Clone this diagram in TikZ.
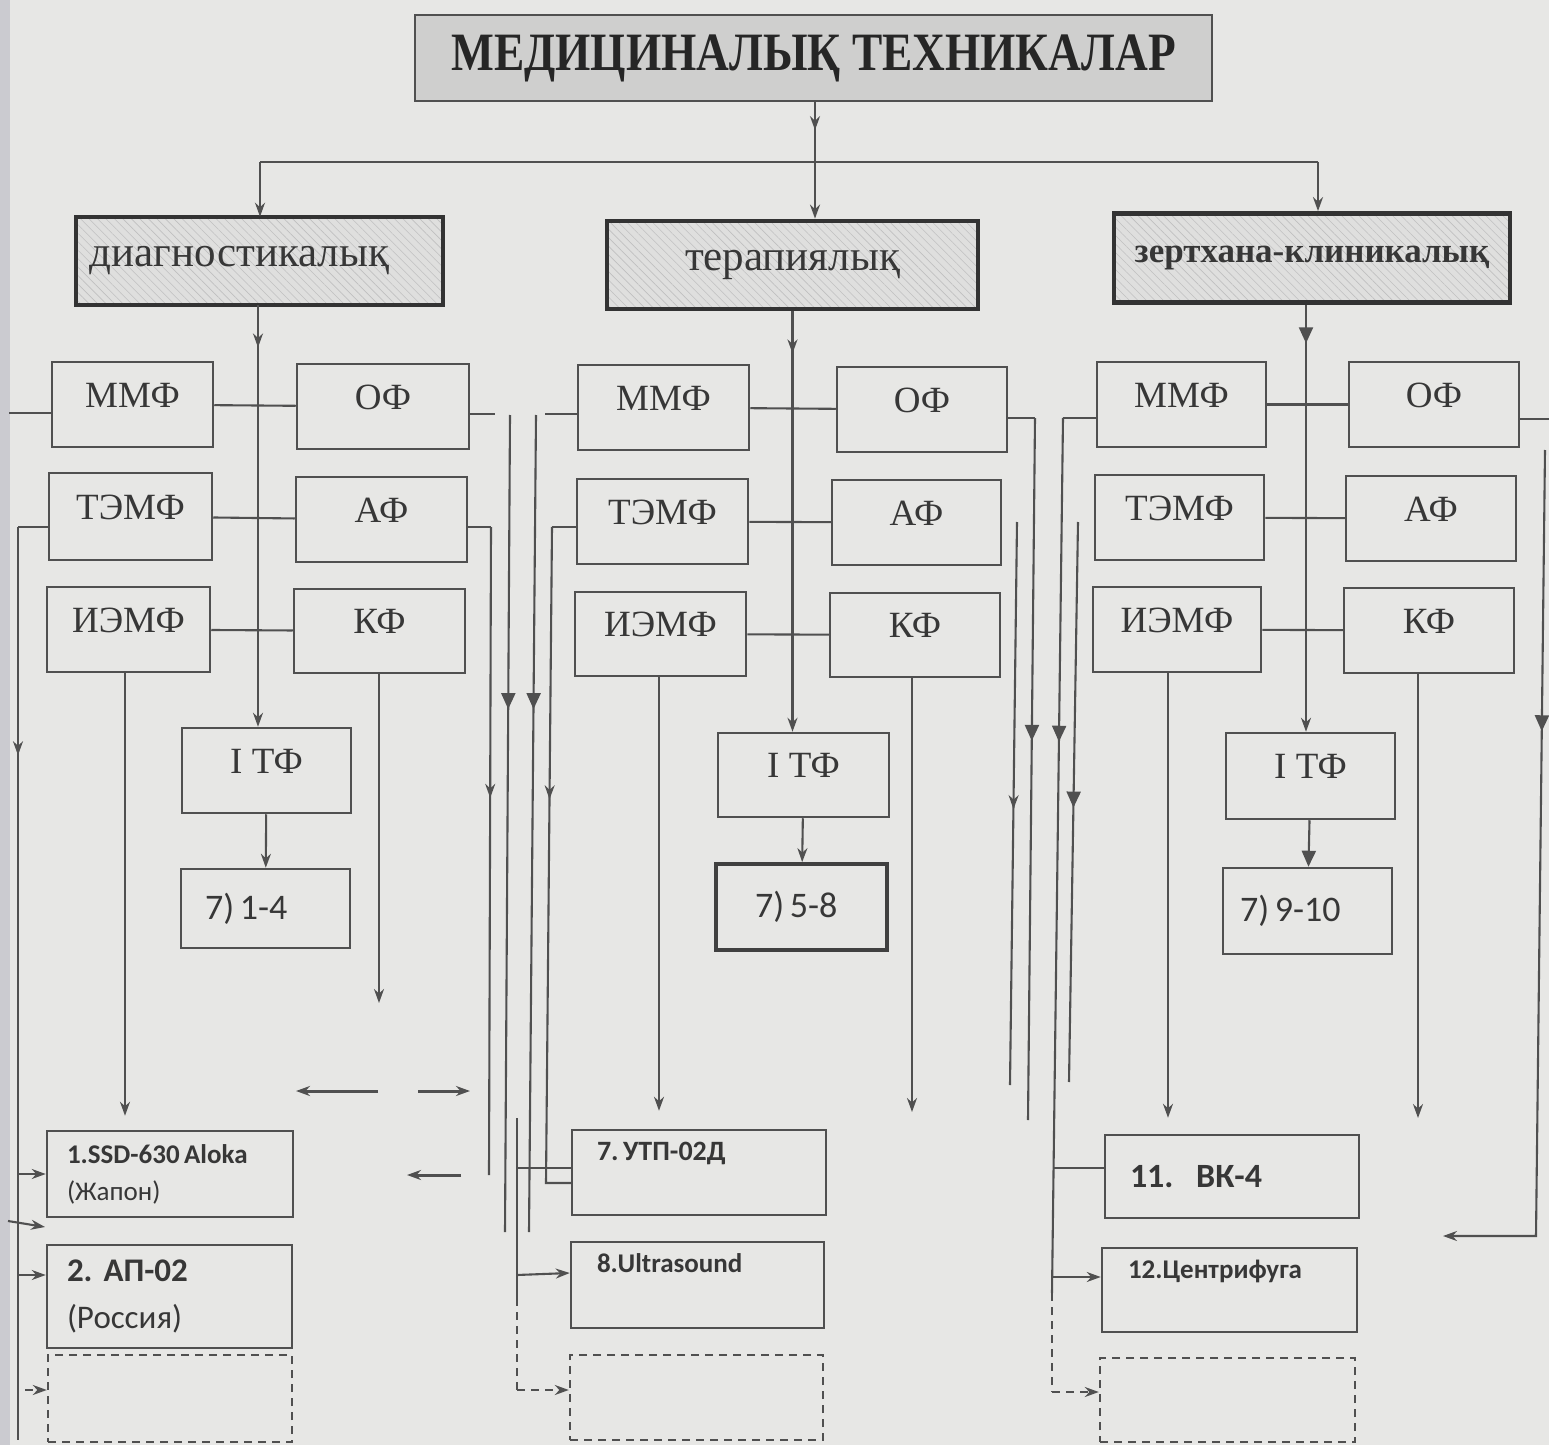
\documentclass[tikz,border=0pt]{standalone}
\usepackage{fontspec}
\usepackage{graphicx}
\setmainfont{Liberation Serif}
\newfontfamily\sansc{Carlito}
\usetikzlibrary{arrows.meta,decorations.markings,patterns.meta}

\definecolor{paper}{RGB}{231,231,229}
\definecolor{ink}{RGB}{80,80,80}
\definecolor{txt}{RGB}{55,55,55}
\definecolor{titlefill}{RGB}{207,207,206}
\definecolor{catfill}{RGB}{223,223,222}
\definecolor{hatch}{RGB}{192,192,192}
\definecolor{band}{RGB}{203,203,208}

\newcommand{\nsp}{\hspace{0.16em}}

\begin{document}
\frenchspacing
\begin{tikzpicture}[x=0.5pt,y=-0.5pt,
  >={Stealth[length=7pt,width=5pt]},
  ln/.style={draw=ink, line width=1.05pt},
  dln/.style={ln, dash pattern=on 4pt off 3pt},
  heavy/.style={draw=ink, line width=1.5pt},
  tipat/.style={postaction={decorate}, decoration={markings, mark=at position #1 with {\arrow{>}}}},
  bigtipat/.style={postaction={decorate}, decoration={markings, mark=at position #1 with {\arrow{Triangle[length=8pt,width=7pt]}}}},
  wh/.style 2 args={minimum width=#1, minimum height=#2},
  fbox/.style={draw=ink, line width=1.25pt, fill=paper, text=txt, inner sep=0pt, font=\fontsize{18.5}{20}\selectfont},
  sf/.style={fbox, text height=12.6pt, text depth=10pt},
  sbox/.style={fbox, font=\sansc\fontsize{18}{20}\selectfont, align=left},
  dbox/.style={draw=ink, line width=1.2pt, dash pattern=on 4pt off 3pt, inner sep=0pt},
  catbox/.style={draw=black!80, line width=2.4pt, preaction={fill=catfill},
    pattern={Lines[angle=-45,distance=3pt,line width=0.3pt]}, pattern color=hatch,
    text=txt, inner sep=0pt},
  topset/.style 2 args={text height=#1, text depth=#2, inner ysep=0pt}
]
% paper and left margin band
\fill[paper] (0,0) rectangle (1549,1445);
\fill[band] (0,0) rectangle (10,1445);
\useasboundingbox (0,0) rectangle (1549,1445);

% ---------- title and the three groups ----------
\node[draw=ink, line width=1.2pt, fill=titlefill, wh={398.5pt}{43pt}, text=black!85,
      font=\bfseries\fontsize{27}{30}\selectfont] (title) at (813.5,58)
      {\scalebox{0.84}[1]{МЕДИЦИНАЛЫҚ ТЕХНИКАЛАР}};

\node[catbox, wh={183.5pt}{44pt}, text width=169.5pt, inner xsep=7pt, align=left,
      font=\fontsize{21.5}{24}\selectfont] (diag) at (259.5,261) {диагностикалық};
\node[catbox, wh={185.5pt}{44pt}, font=\fontsize{21.5}{24}\selectfont] (ther) at (792.5,265) {терапиялық};
\node[catbox, wh={198pt}{44.5pt}, font=\bfseries\fontsize{17.5}{20}\selectfont] (lab) at (1312,258) {зертхана-клиникалық};

% ---------- column 1 ----------
\node[sf, wh={80.5pt}{42.5pt}] (mmf1) at (132.5,404.5) {ММФ};
\node[sf, wh={86pt}{42.5pt}] (of1) at (383,406.5) {ОФ};
\node[sf, wh={81.5pt}{43.5pt}] (temf1) at (130.5,516.5) {ТЭМФ};
\node[sf, wh={85.5pt}{42.5pt}] (af1) at (381.5,519.5) {АФ};
\node[sf, wh={81.5pt}{42.5pt}] (iemf1) at (128.5,629.5) {ИЭМФ};
\node[sf, wh={85.5pt}{42pt}] (kf1) at (379.5,631) {КФ};
\node[sf, wh={84.5pt}{42.5pt}] (itf1) at (266.5,770.5) {I ТФ};
\node[sbox, wh={84.5pt}{39.5pt}, text width=60.5pt, inner xsep=12pt] (r1) at (265.5,908.5) {7)\nsp1-4};
\node[sbox, wh={123pt}{43pt}, text width=103pt, inner xsep=10pt,
      font=\sansc\fontsize{13.5}{18.5}\selectfont] (ssd) at (170,1174)
      {\textbf{1.SSD-630\nsp Aloka}\\(Жапон)};
\node[sbox, wh={122.5pt}{51.5pt}, text width=102.5pt, inner xsep=10pt,
      font=\sansc\fontsize{16.5}{23.5}\selectfont] (ap) at (169.5,1296.5)
      {\textbf{2. АП-02}\\(Россия)};
\node[dbox, wh={122pt}{43.5pt}] (dash1) at (170,1398.5) {};

% ---------- column 2 ----------
\node[sf, wh={85.5pt}{42.5pt}] (mmf2) at (663.5,407.5) {ММФ};
\node[sf, wh={85pt}{42.5pt}] (of2) at (922,409.5) {ОФ};
\node[sf, wh={85.5pt}{42.5pt}] (temf2) at (662.5,521.5) {ТЭМФ};
\node[sf, wh={84.5pt}{42.5pt}] (af2) at (916.5,522.5) {АФ};
\node[sf, wh={85.5pt}{42pt}] (iemf2) at (660.5,634) {ИЭМФ};
\node[sf, wh={85pt}{42pt}] (kf2) at (915,635) {КФ};
\node[sf, wh={85.5pt}{42pt}] (itf2) at (803.5,775) {I ТФ};
\node[sbox, line width=1.9pt, draw=black!75, wh={85.5pt}{43pt}, text width=46.5pt, inner xsep=19.5pt] (r2) at (801.5,907) {7)\nsp5-8};
\node[sbox, wh={127pt}{42.5pt}, text width=102pt, inner xsep=12.5pt, topset={15pt}{27.5pt},
      font=\sansc\bfseries\fontsize{14}{16}\selectfont] (utp) at (699,1172.5) {7.\nsp УТП-02Д};
\node[sbox, wh={126.5pt}{43pt}, text width=100.5pt, inner xsep=13pt, topset={15pt}{28pt},
      font=\sansc\bfseries\fontsize{13.5}{16}\selectfont] (ult) at (697.5,1285) {8.Ultrasound};
\node[dbox, wh={126.5pt}{42.5pt}] (dash2) at (696.5,1397.5) {};

% ---------- column 3 ----------
\node[sf, wh={84.5pt}{42.5pt}] (mmf3) at (1181.5,404.5) {ММФ};
\node[sf, wh={85pt}{42.5pt}] (of3) at (1434,404.5) {ОФ};
\node[sf, wh={84.5pt}{42.5pt}] (temf3) at (1179.5,517.5) {ТЭМФ};
\node[sf, wh={85pt}{42.5pt}] (af3) at (1431,518.5) {АФ};
\node[sf, wh={84pt}{42.5pt}] (iemf3) at (1177,629.5) {ИЭМФ};
\node[sf, wh={85pt}{42.5pt}] (kf3) at (1429,630.5) {КФ};
\node[sf, wh={84.5pt}{43pt}] (itf3) at (1310.5,776) {I ТФ};
\node[sbox, wh={84.5pt}{43pt}, text width=67.5pt, inner xsep=8.5pt] (r3) at (1307.5,911) {7)\nsp9-10};
\node[sbox, wh={127pt}{41.5pt}, text width=102pt, inner xsep=12.5pt,
      font=\sansc\bfseries\fontsize{17}{20}\selectfont] (vk) at (1232,1176.5) {11.\ \ ВК-4};
\node[sbox, wh={127.5pt}{42pt}, text width=101.5pt, inner xsep=13pt, topset={15pt}{27pt},
      font=\sansc\bfseries\fontsize{13.5}{16}\selectfont] (cen) at (1229.5,1290) {12.Центрифуга};
\node[dbox, wh={127.5pt}{42pt}] (dash3) at (1227.5,1400) {};

% ---------- top level connectors ----------
\coordinate (barL) at (260,162);
\coordinate (barR) at (1318,162);
\draw[ln, tipat=0.24, ->] (title.south -| 815,0) -- (ther.north -| 815,0);
\draw[ln] (barL) -- (barR);
\draw[ln, ->] (barL) -- (barL |- diag.north);
\draw[ln, ->] (barR) -- (barR |- lab.north);

% group trunks down to I TF
\draw[ln, tipat=0.1, ->] (diag.south -| 258,0) -- (itf1.north -| 258,0);
\draw[ln, tipat=0.1, ->] (ther.south) -- (ther.south |- itf2.north);
\draw[ln, bigtipat=0.09, ->] (lab.south -| 1306,0) -- (itf3.north -| 1306,0);

% pairs in each column
\foreach \c in {1,2,3} {
  \draw[ln] (mmf\c) -- (of\c);
  \draw[ln] (temf\c) -- (af\c);
  \draw[ln] (iemf\c) -- (kf\c);
}
\draw[ln, ->] (itf1) -- (r1);
\draw[ln, ->] (itf2) -- (r2);
\draw[ln, -{Triangle[length=8pt,width=7pt]}] (itf3) -- (r3);

% ИЭМФ and КФ down-links
\draw[ln, ->, shorten >=7pt] (iemf1.south -| 125,0) -- (ssd.north -| 125,0);
\draw[ln, ->, shorten >=9pt] (iemf2.south -| 659,0) -- (utp.north -| 659,0);
\draw[ln, ->, shorten >=8pt] (iemf3.south -| 1168,0) -- (vk.north -| 1168,0);
\coordinate (kf1end) at (379,1003);
\coordinate (kf2end) at (912,1112);
\coordinate (kf3end) at (1418,1118);
\draw[ln, ->] (kf1.south -| kf1end) -- (kf1end);
\draw[ln, ->] (kf2.south -| kf2end) -- (kf2end);
\draw[ln, ->] (kf3.south -| kf3end) -- (kf3end);

% ---------- left edge ----------
\coordinate (eA) at (9,413);
\coordinate (eB) at (18,527);
\coordinate (eBend) at (18,1440);
\coordinate (gapout) at (8,1221);
\coordinate (gapin) at (45,1227);
\draw[ln] (mmf1.west |- eA) -- (eA);
\draw[ln] (temf1.west |- eB) -- (eB);
\draw[ln, tipat=0.25] (eB) -- (eBend);
\draw[ln, ->] (eB |- ssd.west) -- (ssd.west);
\draw[ln, ->] (gapout) -- (gapin);
\draw[ln, ->] (eB |- 0,1275) -- (ap.west |- 0,1275);
\draw[dln, ->] (25,1390) -- (dash1.west |- 0,1390);

% free arrows between columns 1 and 2
\coordinate (mA1) at (378,1091); \coordinate (mA2) at (296,1091);
\coordinate (mB1) at (418,1091); \coordinate (mB2) at (470,1091);
\coordinate (mC1) at (461,1175); \coordinate (mC2) at (407,1175);
\draw[heavy, ->] (mA1) -- (mA2);
\draw[heavy, ->] (mB1) -- (mB2);
\draw[heavy, ->] (mC1) -- (mC2);

% ---------- lines between columns 1 and 2 ----------
\coordinate (s1) at (495,414);
\coordinate (a1) at (491,527);   \coordinate (a1end) at (489,1175);
\coordinate (b1) at (510,415);   \coordinate (b1end) at (505,1232);
\coordinate (c1) at (536,415);   \coordinate (c1end) at (529,1232);
\coordinate (s2) at (545,414);
\coordinate (d1) at (552,527);   \coordinate (d1b) at (546,1183);
\draw[ln] (of1.east |- s1) -- (s1);
\draw[ln] (af1.east |- a1) -- (a1);
\draw[ln, tipat=0.418] (a1) -- (a1end);
\draw[ln, bigtipat=0.36] (b1) -- (b1end);
\draw[ln, bigtipat=0.36] (c1) -- (c1end);
\draw[ln] (mmf2.west |- s2) -- (s2);
\draw[ln] (temf2.west |- d1) -- (d1);
\draw[ln, tipat=0.4] (d1) -- (d1b) -- (utp.west |- d1b);

\coordinate (t1) at (517,1118);
\coordinate (t1s) at (517,1298);
\coordinate (t1d) at (517,1390);
\draw[ln] (t1) -- (t1s);
\draw[dln] (t1s) -- (t1d);
\draw[ln] (t1 |- 0,1168) -- (utp.west |- 0,1168);
\draw[ln, ->] (t1 |- 0,1275) -- (ult.west |- 0,1273);
\draw[dln, ->] (t1d) -- (dash2.west |- t1d);

% ---------- lines between columns 2 and 3 ----------
\coordinate (s3) at (1035,418);  \coordinate (s3end) at (1028,1120);
\coordinate (g2) at (1017,522);  \coordinate (g2end) at (1010,1085);
\coordinate (g3) at (1063,418);  \coordinate (g3s) at (1052,1293);
\coordinate (g3d) at (1052,1392);
\coordinate (g4) at (1078,522);  \coordinate (g4end) at (1069,1082);
\draw[ln] (of2.east |- s3) -- (s3);
\draw[ln, bigtipat=0.46] (s3) -- (s3end);
\draw[ln, tipat=0.51] (g2) -- (g2end);
\draw[ln] (mmf3.west |- g3) -- (g3);
\draw[ln, bigtipat=0.37] (g3) -- (g3s);
\draw[dln] (g3s) -- (g3d);
\draw[ln, bigtipat=0.51] (g4) -- (g4end);
\draw[ln] (1053,1168) -- (vk.west |- 0,1168);
\draw[ln, ->] (1052,1277) -- (cen.west |- 0,1277);
\draw[dln, ->] (g3d) -- (dash3.west |- g3d);

% ---------- right edge ----------
\coordinate (rr) at (1549,419);
\coordinate (rv) at (1545,450);
\coordinate (rc) at (1536,1236);
\coordinate (rend) at (1443,1236);
\draw[ln] (of3.east |- rr) -- (rr);
\draw[ln, bigtipat=0.32, ->] (rv) -- (rc) -- (rend);
\end{tikzpicture}
\end{document}
